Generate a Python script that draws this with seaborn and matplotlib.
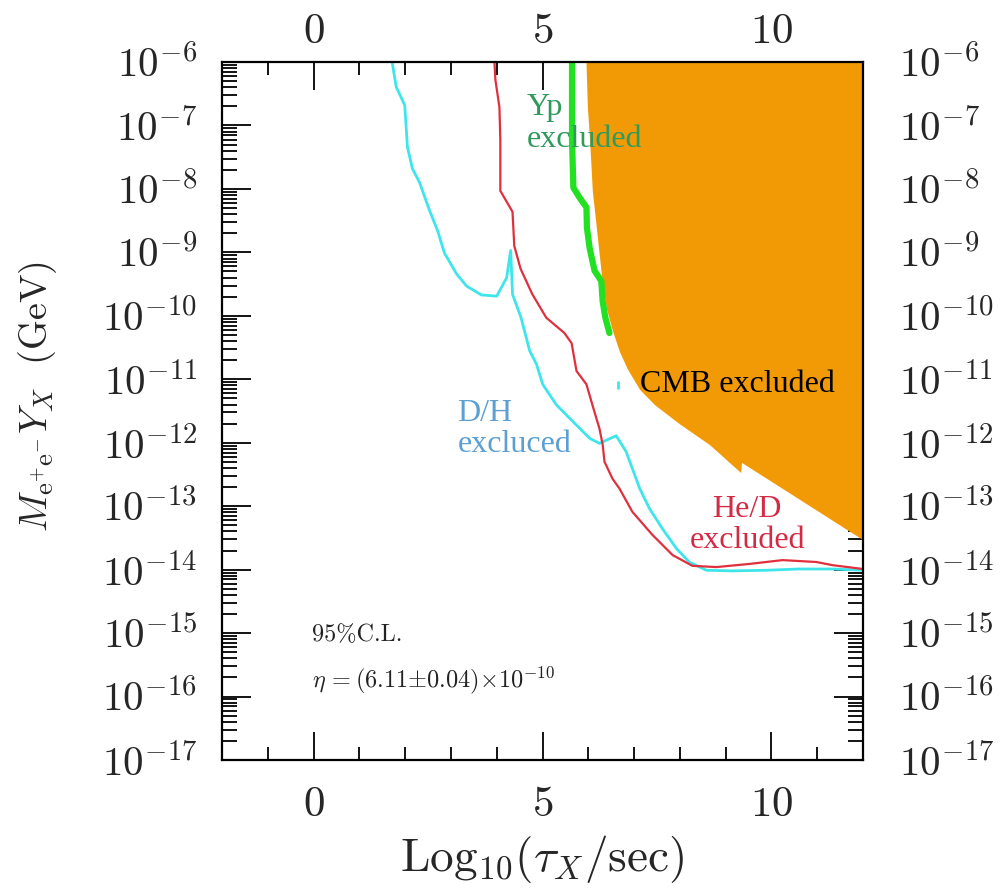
import numpy as np
import pandas as pd
import matplotlib
matplotlib.use("Agg")
import matplotlib.pyplot as plt
import seaborn as sns
from matplotlib.ticker import FixedLocator, FixedFormatter, LogLocator, NullFormatter, MultipleLocator

# Log10 lifetime (sec) and log10 of M*Y bound (GeV) along each exclusion curve
dh_tau = [1.716, 1.804, 1.991, 2.050, 2.159, 2.316, 2.533, 2.710, 2.858, 3.124, 3.340,
          3.665, 4.000, 4.217, 4.305, 4.345, 4.532, 4.719, 4.867, 5.005, 5.300, 5.655,
          6.029, 6.245, 6.610, 6.826, 6.964, 7.122, 7.338, 7.624, 7.929, 8.205, 8.579,
          9.150, 9.889, 10.608, 11.336, 12.0]
dh_logm = [-6.00, -6.39, -6.68, -7.34, -7.68, -7.90, -8.34, -8.66, -9.01, -9.34, -9.53,
           -9.67, -9.69, -9.40, -8.97, -9.66, -10.03, -10.55, -10.76, -11.08, -11.40,
           -11.66, -11.93, -12.01, -11.89, -12.14, -12.41, -12.72, -13.04, -13.36,
           -13.67, -13.88, -14.01, -14.02, -14.01, -13.99, -13.99, -14.01]

hed_tau = [3.951, 3.971, 4.059, 4.079, 4.079, 4.345, 4.384, 4.522, 4.778, 5.083, 5.477,
           5.635, 5.743, 5.960, 6.088, 6.245, 6.314, 6.354, 6.531, 6.679, 6.964, 7.398,
           7.840, 8.274, 8.796, 9.524, 10.243, 10.982, 11.336, 12.0]
hed_logm = [-6.00, -6.28, -6.71, -7.23, -8.03, -8.36, -8.90, -9.26, -9.66, -10.03,
            -10.27, -10.43, -10.87, -11.08, -11.40, -11.78, -12.03, -12.30, -12.57,
            -12.72, -13.09, -13.45, -13.77, -13.94, -13.96, -13.91, -13.85, -13.88,
            -13.93, -13.99]

yp_tau = [5.645, 5.645, 5.674, 5.812, 5.960, 5.970, 6.029, 6.137, 6.285, 6.314, 6.373,
          6.462]
yp_logm = [-6.00, -7.23, -7.98, -8.14, -8.29, -8.61, -8.93, -9.29, -9.45, -9.77,
           -10.03, -10.27]

cmb_tau = [5.950, 5.980, 6.029, 6.088, 6.176, 6.285, 6.393, 6.531, 6.679, 6.856, 7.122,
           7.447, 7.988, 8.648, 9.328, 9.347, 12.0]
cmb_logm = [-6.00, -6.71, -7.23, -8.03, -8.61, -9.34, -9.88, -10.24, -10.56, -10.84,
            -11.16, -11.40, -11.70, -12.03, -12.47, -12.31, -13.53]

# small isolated D/H island
dh_island_tau = [6.64, 6.64]
dh_island_logm = [-11.05, -11.14]

x_major = [0, 5, 10]
x_labels = [r"$0$", r"$5$", r"$10$"]
y_decades = list(range(-17, -5))
y_labels = [r"$10^{%d}$" % d for d in y_decades]

sns.set_theme(style="ticks")
plt.rcParams["mathtext.fontset"] = "cm"
plt.rcParams["font.family"] = ["Liberation Serif", "DejaVu Serif"]

CYAN = "#3ee6ec"
RED = "#e0303e"
GREEN = "#22e022"
ORANGE = "#f29a05"
XTICK_FS = 31
YTICK_FS = 29.5

fig = plt.figure(figsize=(10, 8.9), dpi=100)
ax = fig.add_axes([0.222, 0.1461, 0.641, 0.7842])
ax.set_yscale("log")
ax.set_xlim(-2, 12)
ax.set_ylim(1e-17, 1e-6)

# label-only twins so top/right labels can sit at their own distance
ax_top = ax.twiny()
ax_right = ax.twinx()

# CMB excluded region: from its boundary up to the top of the plot
cmb = pd.DataFrame({"tau": cmb_tau, "m": np.power(10.0, cmb_logm)})
ax.fill_between(cmb["tau"], cmb["m"], ax.get_ylim()[1], color=ORANGE, lw=0, zorder=1)

curves = [
    (dh_tau, dh_logm, CYAN, 2.0),
    (dh_island_tau, dh_island_logm, CYAN, 2.0),
    (hed_tau, hed_logm, RED, 1.6),
    (yp_tau, yp_logm, GREEN, 4.5),
]
for tau, logm, col, lw in curves:
    df = pd.DataFrame({"tau": tau, "m": np.power(10.0, logm)})
    sns.lineplot(data=df, x="tau", y="m", sort=False, estimator=None,
                 color=col, lw=lw, ax=ax, zorder=3)

ax.set_xlabel(r"$\mathrm{Log}_{10}(\tau_X/\mathrm{sec})$", fontsize=34)
ax.set_ylabel(r"$M_{\mathrm{e^{+}e^{-}}}Y_X\ \ (\mathrm{GeV})$", fontsize=27.5)
ax.xaxis.set_label_coords(0.5, -0.104)
ax.yaxis.set_label_coords(-0.255, 0.52)


def set_x_ticks(a):
    a.xaxis.set_major_locator(FixedLocator(x_major))
    a.xaxis.set_major_formatter(FixedFormatter(x_labels))
    a.xaxis.set_minor_locator(MultipleLocator(1))


def set_y_ticks(a):
    a.set_yscale("log")
    a.yaxis.set_major_locator(FixedLocator([10.0 ** d for d in y_decades]))
    a.yaxis.set_major_formatter(FixedFormatter(y_labels))
    a.yaxis.set_minor_locator(LogLocator(base=10, subs=np.arange(2, 10), numticks=40))
    a.yaxis.set_minor_formatter(NullFormatter())


set_x_ticks(ax)
set_y_ticks(ax)

ax_top.set_xlim(ax.get_xlim())
set_x_ticks(ax_top)
ax_top.tick_params(axis="x", which="both", length=0, labelsize=XTICK_FS, pad=7)
set_y_ticks(ax_right)
ax_right.set_ylim(ax.get_ylim())
ax_right.tick_params(axis="y", which="both", length=0, labelsize=YTICK_FS, pad=26)
for a in (ax_top, ax_right):
    for sp in a.spines.values():
        sp.set_visible(False)

ax.tick_params(which="both", direction="in", top=True, right=True, bottom=True,
               left=True, labeltop=False, labelright=False, color="black", width=1.3)
ax.tick_params(axis="x", which="major", length=20, labelsize=XTICK_FS, pad=19)
ax.tick_params(axis="x", which="minor", length=9.5)
ax.tick_params(axis="y", which="major", length=21, labelsize=YTICK_FS, pad=18)
ax.tick_params(axis="y", which="minor", length=11)
for sp in ax.spines.values():
    sp.set_linewidth(1.6)
    sp.set_color("black")
    sp.set_zorder(5)


def lab(tau, logm, text, **kw):
    ax.text(tau, 10.0 ** logm, text, zorder=6, **kw)


lab(4.65, -6.97, "Yp\nexcluded", color="#2f9a5c", fontsize=23, ha="left", va="center",
    linespacing=1.1)
lab(7.12, -11.09, "CMB excluded", color="black", fontsize=23, ha="left", va="center")
lab(3.14, -11.78, "D/H\nexcluced", color="#5c9fd2", fontsize=23, ha="left", va="center",
    linespacing=1.1)
lab(9.47, -13.30, "He/D\nexcluded", color="#d42a44", fontsize=23, ha="center",
    va="center", multialignment="center", linespacing=1.1)
lab(-0.04, -15.03, "95%C.L.", family="cmr10", color="#222222", fontsize=17.5,
    ha="left", va="center")
lab(-0.04, -15.74, r"$\eta\,{=}(6.11{\pm}0.04){\times}10^{-10}$", color="#222222",
    fontsize=17.5, ha="left", va="center")

fig.savefig("out.png", dpi=100)
